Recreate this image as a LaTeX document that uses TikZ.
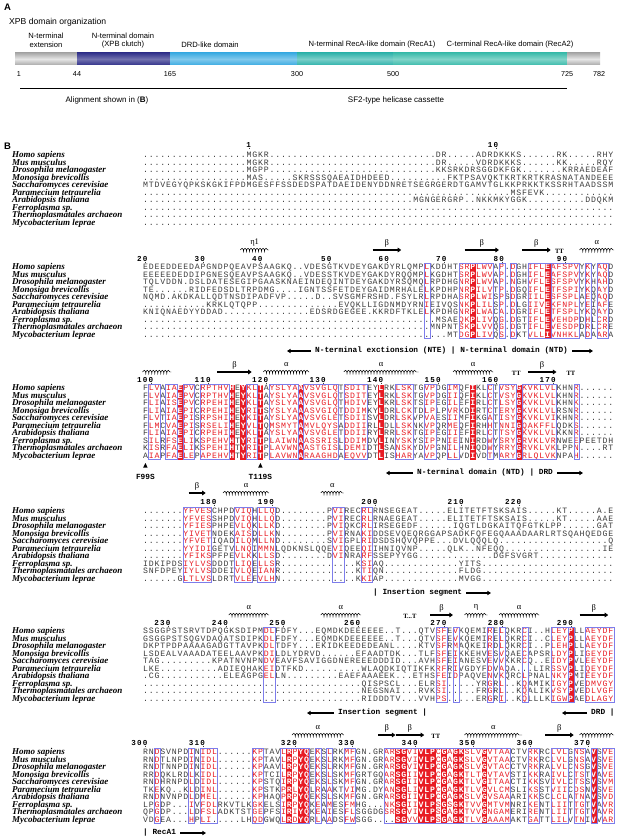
\documentclass[tikz,border=0pt]{standalone}
\usepackage{fontspec}
\setmainfont{Liberation Serif}
\setsansfont{Liberation Sans}
\newfontfamily\monofam{Liberation Mono}
\usetikzlibrary{arrows.meta,decorations.pathmorphing}
\definecolor{seqred}{RGB}{232,28,36}
\definecolor{seqgray}{RGB}{60,60,60}
\definecolor{framebl}{RGB}{125,125,235}
\definecolor{segA}{RGB}{200,200,200}
\definecolor{segB}{RGB}{52,52,140}
\definecolor{segC}{RGB}{62,172,226}
\definecolor{segD}{RGB}{50,180,172}
\definecolor{segE}{RGB}{62,188,172}
\newdimen\seqcw \seqcw=5.75pt
\newcount\sqcol
\newcount\sqn
\def\sqend{-sqend-}
\gdef\sqbglist{,}\gdef\sqredlist{,}\gdef\curframes{}
\ExplSyntaxOn
\cs_new:Npn \D #1 {\prg_replicate:nn {#1} {.}}
\ExplSyntaxOff
\makeatletter
\def\sq@box#1#2{\hbox to\seqcw{\hss\textcolor{#1}{#2}\hss}}
\def\sq@bgbox#1{\hbox to\seqcw{\rlap{\textcolor{seqred}{\vrule width\seqcw height 5.55pt depth 1.95pt}}\hss\textcolor{white}{\bfseries #1}\hss}}
\def\sqchar#1{%
  \global\advance\sqcol by 1\relax
  \ifx#1.%
    \sq@box{seqgray}{.}%
  \else
    \edef\sq@x{\noexpand\in@{,\the\sqcol,}{\sqbglist}}\sq@x
    \ifin@
      \sq@bgbox{#1}%
    \else
      \edef\sq@x{\noexpand\in@{,\the\sqcol,}{\sqredlist}}\sq@x
      \ifin@\sq@box{seqred}{#1}\else\sq@box{seqgray}{#1}\fi
    \fi
  \fi}
\def\sqtypeA#1{\ifx#1\sqend\else\sqchar{#1}\expandafter\sqtypeA\fi}
\def\sqcountA#1{\ifx#1\sqend\else\advance\sqn by 1\relax\expandafter\sqcountA\fi}
\newcommand\sqL[1]{\edef\sq@s{#1}\global\sqcol=0\relax\expandafter\sqtypeA\sq@s\sqend}
\newcommand\sqR[1]{\edef\sq@s{#1}\sqn=0\relax\expandafter\sqcountA\sq@s\sqend\global\sqcol=\numexpr82-\sqn\relax\expandafter\sqtypeA\sq@s\sqend}
\def\rdigA#1{\ifx#1\sqend\else\hbox to\seqcw{\hss#1\hss}\expandafter\rdigA\fi}
\newcommand\rdig[1]{\edef\sq@s{#1}\expandafter\rdigA\sq@s\sqend}
\makeatother
\def\blky{0}
\newcommand\seqline[3]{%
  \node[seqst,anchor=base west] at (142.5,{\blky+7.5*(#1-1)+2.5}) {\sqL{#2}};%
  \node[seqst,anchor=base east] at (614,{\blky+7.5*(#1-1)+2.5}) {\sqR{#3}};}
\newcommand\namesat[1]{\foreach \nm [count=\ii from 0] in {Homo sapiens,Mus musculus,Drosophila melanogaster,Monosiga brevicollis,Saccharomyces cerevisiae,Paramecium tetraurelia,Arabidopsis thaliana,Ferroplasma sp.,Thermoplasmatales archaeon,Mycobacterium leprae}{\node[namest] at (12,{#1+7.5*\ii+2.5}) {\nm};}}
\newcommand\rul[2]{\foreach \rc/\rn in {#2}{\node[rulst] at ({142.5+\rc*5.75},{#1+2.5}) {\rdig{\rn}};\draw[line width=0.45pt,seqgray] ({142.5+(\rc-0.5)*5.75},{#1+2.7}) -- ({142.5+(\rc-0.5)*5.75},{#1+4.3});}}
\newcommand\setframes[2]{\gdef\curframes{#1}\gdef\sqbglist{,#2,}\gdef\sqredlist{,}%
  \foreach \fa/\fb in {#1}{\foreach \fc in {\fa,...,\fb}{\xdef\sqredlist{\sqredlist\fc,}}}}
\newcommand\drawframes[1]{\foreach \fa/\fb in \curframes {\draw[framest] ({142.5+(\fa-1)*5.75},{#1-3.75}) rectangle ({142.5+\fb*5.75},{#1+71.25});}}
\newcommand\hel[3]{\draw[helixst] ({142.5+(#2-1)*5.75},#1) -- ({142.5+#3*5.75},#1);}
\newcommand\hlab[4]{\hel{#1}{#2}{#3}\node[sslab] at ({142.5+(#2+#3-1)*5.75/2},{#1-7.5}) {#4};}
\newcommand\bet[3]{\draw[betaarrow] ({142.5+(#2-1)*5.75},#1) -- ({142.5+#3*5.75},#1);\node[sslab] at ({142.5+(#2+#3-1)*5.75/2},{#1-7}) {β};}
\newcommand\turn[3]{\node[ttst] at ({142.5+(#2-0.5)*5.75},#1) {#3};}
\begin{document}
\begin{tikzpicture}[x=1pt,y=-1pt,
  namest/.style={inner sep=0pt,anchor=base west,font=\rmfamily\bfseries\itshape\fontsize{9}{9}\selectfont},
  seqst/.style={inner sep=0pt,font=\monofam\fontsize{8.2}{8.2}\selectfont},
  rulst/.style={inner sep=0pt,anchor=base east,font=\monofam\bfseries\fontsize{7.6}{7.6}\selectfont},
  framest/.style={draw=framebl,line width=0.5pt},
  betaarrow/.style={line width=1.4pt,-{Triangle[length=3.6pt,width=4.6pt]}},
  helixst/.style={line width=0.45pt,decorate,decoration={coil,amplitude=1.7pt,segment length=3pt,aspect=0.6}},
  sslab/.style={inner sep=0pt,font=\rmfamily\fontsize{8.5}{8.5}\selectfont},
  ttst/.style={inner sep=0pt,font=\rmfamily\bfseries\fontsize{6.5}{6.5}\selectfont},
  annst/.style={inner sep=0pt,anchor=west,font=\monofam\bfseries\fontsize{7.8}{7.8}\selectfont},
  annarrow/.style={line width=1.2pt,-{Triangle[length=3.6pt,width=4.2pt]}},
  lbA/.style={inner sep=0pt,font=\sffamily\fontsize{7.6}{7.6}\selectfont},
  numA/.style={inner sep=0pt,font=\sffamily\fontsize{7.2}{7.2}\selectfont},
  panel/.style={inner sep=0pt,anchor=base west,font=\sffamily\bfseries\fontsize{9.5}{9.5}\selectfont}]
\useasboundingbox (0,0) rectangle (617,837);
\fill[white] (0,0) rectangle (617,837);
% ---------------- Panel A
\node[panel] (pA) at (4,11) {A};
\node[inner sep=0pt,anchor=base west,font=\sffamily\fontsize{8.6}{8.6}\selectfont] (tA) at (9,25) {XPB domain organization};
\node[lbA] (d1a) at (46,36) {N-terminal};
\node[lbA] (d1b) at (46,45) {extension};
\node[lbA] (d2a) at (123,36) {N-terminal domain};
\node[lbA] (d2b) at (123,45) {(XPB clutch)};
\node[lbA] (d3) at (210,45) {DRD-like domain};
\node[lbA] (d4) at (372,45) {N-terminal RecA-like domain (RecA1)};
\node[lbA] (d5) at (510,45) {C-terminal RecA-like domain (RecA2)};
\shade[top color=segA!85!black,bottom color=segA!85!black,middle color=segA!45!white] (15,53) rectangle (77,65);
\shade[top color=segB,bottom color=segB,middle color=segB!70!white] (77,53) rectangle (170,65);
\shade[top color=segC,bottom color=segC,middle color=segC!65!white] (170,53) rectangle (297,65);
\shade[top color=segD,bottom color=segD,middle color=segD!65!white] (297,53) rectangle (393,65);
\shade[top color=segE,bottom color=segE,middle color=segE!65!white] (393,53) rectangle (567,65);
\shade[top color=segA!85!black,bottom color=segA!85!black,middle color=segA!45!white] (567,53) rectangle (600,65);
\node[numA] (n1) at (19,74) {1};
\node[numA] (n44) at (77,74) {44};
\node[numA] (n165) at (170,74) {165};
\node[numA] (n300) at (297,74) {300};
\node[numA] (n500) at (393,74) {500};
\node[numA] (n725) at (567,74) {725};
\node[numA] (n782) at (599,74) {782};
\coordinate (al1) at (20,88); \coordinate (al2) at (297,88);
\coordinate (sf1) at (297,88); \coordinate (sf2) at (567,88);
\draw[line width=0.7pt] (al1) -- (al2);
\draw[line width=0.7pt] (sf1) -- (sf2);
\node[lbA,font=\sffamily\fontsize{8}{8}\selectfont] (alt) at (107,100) {Alignment shown in (\textbf{B})};
\node[lbA,font=\sffamily\fontsize{8}{8}\selectfont] (sft) at (396,100) {SF2-type helicase cassette};
% ---------------- Panel B
\node[panel] (pB) at (4,150) {B};
% ===== Block 1
\def\blky{155}
\namesat{155}
\rul{145}{19/1,62/10}
\seqline{1}{\D{18}MGKR\D{29}}{DR\D{5}ADRDKKKS\D{6}RK\D{5}RHY}
\seqline{2}{\D{18}MGKR\D{29}}{DR\D{5}VDRDKKKS\D{6}KK\D{5}RQY}
\seqline{3}{\D{18}MGPP\D{29}}{KKSRKDRSGGDKFGK\D{7}KRRAEDEAF}
\seqline{4}{\D{18}MAS\D{5}SKRSSSQAEAIDHDEED\D{8}}{..FKTPSAVQKTKRTKRTKRASNATANDEEE}
\seqline{5}{MTDVEGYQPKSKGKIFPDMGESFFSSDEDSPATDAEIDENYDDNRETSEGR}{GERDTGAMVTGLKKPRKKTKSSRHTAADSSM}
\seqline{6}{\D{51}}{\D{13}MSFEVK\D{12}}
\seqline{7}{\D{47}MGNG}{ERGRP..NKKMKYGGK\D{10}DDQKM}
\seqline{8}{\D{51}}{\D{31}}
\seqline{9}{\D{51}}{\D{31}}
\seqline{10}{\D{51}}{\D{31}}
% ===== Block 2
\def\blky{267}
\namesat{267}
\rul{259}{1/20,11/30,21/40,33/50,43/60,53/70,63/80,74/90}
\hlab{250}{18}{22}{η1}
\bet{250}{41}{45}
\bet{250}{57}{62}
\bet{250}{67}{71}
\turn{251}{73}{TT}
\hlab{250}{77}{82}{α}
\setframes{50/50,56/61,63/63,65/65,68/71,72/76,78/78,80/81}{58,71}
\seqline{1}{EDEEDDEEDAPGNDPQEAVPSAAGKQ..VDESGTKVDEYG}{AKDYRLQMPLKDDHTSRPLWVAP.DGHIFLEAFSPVYKYAQD}
\seqline{2}{EEEEEDEDDIPGNESQEAVPSAAGKQ..VDESSTKVDEYG}{AKDYRQQMPLKGDHTSRPLWVAP.DGHIFLEAFSPVYKYAQD}
\seqline{3}{TQLVDDN.DSLDATESEGIPGAASKNAEINDEQINTDEYG}{AKDYRSQMQLRPDHGNRPLWVAP.NGHVFLESFSPVYKHAHD}
\seqline{4}{TE\D{6}RIDFEDSDLTRPDMG\D{4}IGNTSSFETDEYG}{AIDMRHALELKPDHPNRPILVTP.DGQIFLETFSPIYKQAYD}
\seqline{5}{NQMD.AKDKALLQDTNSDIPADFVP\D{5}D..SVSGMFR}{SHD.FSYLRLRPDHASRPLWISPSDGRIILESFSPLAEQAQD}
\seqline{6}{\D{11}KRKLQTQPP\D{14}EVQKLL}{IGDNMDYRNIEIVQSNKPLILSP.DLGIIVEKFNPLYEIAFE}
\seqline{7}{KNIQNAEDYYDDAD\D{15}EDSRDGEGEE.}{KKRDFTKLELKPDHGNRPLWACA.DGRIFLETFSPLYKQAYD}
\seqline{8}{\D{40}}{\D{11}MSAEQKPLIVQG.DGTIFLEVEHDPDHLCRD}
\seqline{9}{\D{40}}{\D{10}MNPNTSKPLVVQG.DGTIFLEVESDPDRLCRE}
\seqline{10}{\D{40}}{\D{13}MTDGPLIVQS.DKTVLLIVNHKLADAARA}
\drawframes{267}
\node[annst] (ann2) at (315,351) {N-terminal exctionsion (NTE) | N-terminal domain (NTD)};
\coordinate (ann2L) at (287,351);
\coordinate (ann2R) at (593,351);
\draw[annarrow] ([xshift=-4pt]ann2.west) -- (ann2L);
\draw[annarrow] ([xshift=4pt]ann2.east) -- (ann2R);
% ===== Block 3
\def\blky{388}
\namesat{388}
\rul{380}{2/100,12/110,22/120,32/130,42/140,52/150,62/160,72/170}
\hel{372}{1}{5}
\bet{372}{14}{19}
\hlab{372}{22}{29}{α}
\hlab{372}{36}{48}{α}
\hlab{372}{55}{61}{α}
\turn{373}{65.5}{TT}
\bet{372}{68}{72}
\turn{373}{75}{TT}
\setframes{2/3,5/6,8/9,11/15,19/20,23/27,29/34,36/39,45/47,50/51,54/55,61/61,63/65,67/72,76/76}{7,16,18,21,28,42,58,66}
\seqline{1}{FLVAIAEPVCRPTHVHEYKLTAYSLYAAVSVGLQTSDITEY}{LRKLSKTGVPDGIMQFIKLCTVSYGKVKLVLKHNR\D{6}}
\seqline{2}{FLVAIAEPVCRPTHVHEYKLTAYSLYAAVSVGLQTSDITEY}{LRKLSKTGVPDGIIQFIKLCTVSYGKVKLVLKHNR\D{6}}
\seqline{3}{FLIAISEPVCRPEHIHEYKLTAYSLYAAVSVGLQTHDIVEY}{LKRLSKTSIPEGILEFIRLCTLSYGKVKLVLKHNK\D{6}}
\seqline{4}{FLIAIAEPICRPEHIHEYRITSYSLYAAASVGIQTDDIMKY}{LDRLCKTDLPLPVRKDIRTCTERYGKVKLVLRSNR\D{6}}
\seqline{5}{FLVTIAEPISRPSHIHEYKITAYSLYAAVSVGLETSDIISV}{LDRLSKVPVAESIIMFIKGATISYGKVKLVIKHNR\D{6}}
\seqline{6}{FLMCVAEPISRSELIHEYVLTQMSMYTAMVLQYSADDIIRL}{LDLLSKNKVPQRMEQFIRHHTNNIGQAKFFLQDKS\D{6}}
\seqline{7}{FLIAIAEPICRPEHIHEYKLTAYSLYAAVSVGLETDDIIRY}{LRRLSKTGIPEGIIEFIRLCTTSYGKVKLVLKKNR\D{6}}
\seqline{8}{SILRFSELIKSPEHVHTYRITPLAIWNAASSRISLDDIMDV}{LINYSKYSIPPNIEINIRDWYSRYGRVKLVRNWEEPEETDH}
\seqline{9}{KISRFAELIKSPEHIHTYRITPLAVWNAASTGISLDEMIDT}{LSANSKYDVPGNILHNIQDWYRRYGRVKLVKLPPN\D{4}RT}
\seqline{10}{AIAPFAELEPAPEHVHTYRITPLAVWNARAAGHDAEQVVDT}{LISHARYAVPQPLLVDIVDTMARYGRLQLVKNPAH\D{6}}
\drawframes{388}
\fill (143.2,467.5) -- (147.6,467.5) -- (145.4,463) -- cycle;
\fill (258.2,467.5) -- (262.6,467.5) -- (260.4,463) -- cycle;
\node[annst,anchor=center] (f99) at (145.4,477) {F99S};
\node[annst,anchor=center] (t119) at (260.4,477) {T119S};
\node[annst] (ann3) at (417,473) {N-terminal domain (NTD) | DRD};
\coordinate (ann3L) at (386,473);
\coordinate (ann3R) at (583,473);
\draw[annarrow] ([xshift=-4pt]ann3.west) -- (ann3L);
\draw[annarrow] ([xshift=4pt]ann3.east) -- (ann3R);
% ===== Block 4
\def\blky{511}
\namesat{511}
\rul{502}{13/180,23/190,41/200,56/210,66/220}
\bet{493}{9}{11}
\hlab{493}{15}{22}{α}
\hlab{493}{32}{35}{α}
\setframes{8/12,17/19,21/23,34/35,39/40}{}
\seqline{1}{\D{7}YFVESCHPDVIQHLLQD\D{8}PVIRECRLRN}{SEGEAT\D{5}ELITETFTSKSAIS\D{5}KT\D{5}A.E}
\seqline{2}{\D{7}YFVESSHPDVIQHLLQD\D{8}PVIRECRLRN}{AEGEAT\D{5}ELITETFTSKSAIS\D{5}KT\D{5}AAE}
\seqline{3}{\D{7}YFIESPHPEVLQKLLKD\D{8}PVIQKCRLIR}{SEGEDF\D{6}IQGTLDGKAITQFGTKLPP\D{6}GAT}
\seqline{4}{\D{7}YIVETNDEKAISDLLKN\D{8}PVIRNAKIDD}{SEVQEQRGGAPSADKFQFEGQAAADAARLRTSQAHQEDGE}
\seqline{5}{\D{7}YFVETIQADILQMLLND\D{8}SVIGPLRIDS}{DSHQVQPPE\D{3}DVLQQQLQ\D{19}Q}
\seqline{6}{\D{7}YYIDIGETVLNQIMMNLQDKNSLQQEVIQEEQIIH}{NIQVNP\D{5}QLK..NFEQQ\D{17}IE}
\seqline{7}{\D{7}YFIKSPFPEVLKKLLSD\D{8}DVINRARFSS}{EPYYGG\D{13}DGFSVGRT\D{13}}
\seqline{8}{IDKIPDSIYLVSDDDTLIQELLSR\D{13}KSIAQ}{\D{13}YITS\D{23}}
\seqline{9}{SNFDPEYIYLVSDDEIVLQEIANR\D{13}KTIQN}{\D{13}FLDG\D{23}}
\seqline{10}{\D{6}GLTLVSLDRTVLEEVLHN\D{13}KKIAP}{\D{13}MVGG\D{23}}
\drawframes{511}
\node[annst] (ann4) at (373,593) {| Insertion segment};
\coordinate (ann4R) at (491,593);
\draw[annarrow] ([xshift=4pt]ann4.east) -- (ann4R);
% ===== Block 5
\def\blky{631}
\namesat{631}
\rul{623}{5/230,15/240,25/250,38/260,53/270,63/280,75/290}
\hlab{615}{16}{22}{α}
\hlab{615}{32}{38}{α}
\turn{616}{47}{T...T}
\bet{615}{51}{54}
\hlab{615}{57}{60}{η}
\hlab{615}{63}{69}{α}
\bet{615}{77}{81}
\setframes{22/23,52/53,55/55,61/61,63/63,67/67,72/74,75/75,78/82}{75}
\seqline{1}{SSGGPSTSRVTDPQGKSDIPMDLFDFY\D{3}EQMDKDEEEEEE}{..T\D{3}QTVSFEVKQEMIRELQKRCI..HLEYPLLAEYDF}
\seqline{2}{GSGGPSTSQGVDAQATSDIPKDLFDFY\D{3}EQMDKDEEEEEE}{..T\D{3}QTVSFEVKQEMIRELQKRCI..CLEYPLLAEYDF}
\seqline{3}{DKPTPDPAAAAGADGTTAVPKDLTDFY\D{3}EKIDKEEDEDEA}{NL\D{4}KTVSFRMAQKEIRDLQKRCI..PLEHPLLAEYDF}
\seqline{4}{LSDEALVAAADATEELAAVPKDILDLYDRVD\D{6}EFAAD}{TDK\D{3}TLFSFEIKKEHVESVQAECAPSRLDYPLIGEYDF}
\seqline{5}{TAG\D{9}KPATNVNPNDVEAVFSAVIGGDNEREEEDD}{DID\D{3}AVHSFEIANESVEVVKKRCQ..EIDYPVLEEYDF}
\seqline{6}{LKE\D{10}ADIEQHAKEIDTFKD\D{10}WLAQ}{DKIQTIKFKRFRIVGDYFDVAQA\D{3}LIRSSVPLIQEYDF}
\seqline{7}{.CG\D{11}ELEAGPGELLN\D{9}EAEFAAAE}{EK\D{3}ETHSFEIDPAQVENVKQRCLPNALNKYPMIEEYDF}
\seqline{8}{\D{38}QISP}{SCL\D{3}ELRSI\D{5}YRGRL..KQAMIKIGYPVEDMVGY}
\seqline{9}{\D{38}NEGS}{NAI\D{3}RVKSI\D{5}FRGRL..KQALIKVSYPVEDLVGF}
\seqline{10}{\D{38}RIDD}{DTV\D{3}VVHPS\D{5}ERGRI..KQLLLKIGWPAEDLAGY}
\drawframes{631}
\node[annst] (ann5) at (338,713) {Insertion segment |};
\coordinate (ann5L) at (307,713);
\draw[annarrow] ([xshift=-4pt]ann5.west) -- (ann5L);
\node[annst] (ann5b) at (591,713) {DRD |};
\coordinate (ann5bL) at (562,713);
\draw[annarrow] ([xshift=-4pt]ann5b.west) -- (ann5bL);
% ===== Block 6
\def\blky{752}
\namesat{752}
\rul{743}{1/300,11/310,27/320,37/330,48/340,58/350,68/360,78/370}
\hlab{735}{27}{35}{α}
\bet{735}{42}{44}
\bet{735}{45}{49}
\turn{736}{51.5}{TT}
\hlab{735}{57}{66}{α}
\bet{735}{71}{75}
\hel{735}{77}{82}
\setframes{3/3,9/9,11/13,20/21,25/29,31/31,33/33,36/37,43/64,68/69,72/74,76/77,79/79,81/82}{26,28,29,45,46,49,50,51,53,55,56,60,79}
\seqline{1}{RNDSVNPDINIDL\D{6}KPTAVLRPYQEKSLRKMFGN.G}{RARSGVIVLPCGAGKSLVGVTAACTVRKRCLVLGNSAVSVE}
\seqline{2}{RNDTLNPDINIDL\D{6}KPTAVLRPYQEKSLRKMFGN.G}{RARSGVIVLPCGAGKSLVGVTAACTVRKRCLVLGNSAVSVE}
\seqline{3}{RNDTNNPDINIDL\D{6}KPAAVLRPYQEKSLRKMFGN.G}{RARSGVIVLPCGAGKSLVGVTACCTVRKRALVLCNSGVSVE}
\seqline{4}{RRDQKLRDLKIDL\D{6}KPTCILRPYQEKSLSKMFGRTG}{QARSGIIVLPCGAGKTLTGVTAVSTIKKRAIVLCTSTVAVE}
\seqline{5}{RNDHRNPDLDIDL\D{6}KPSTQIRPYQEKSLSKMFGN.G}{RARSGIIVLPCGAGKTLVGITAACTIKKSVIVLCTSSVSVM}
\seqline{6}{TKEKQ..KLDINL\D{6}KPSTKPRLYQLRAAKTVIMG.D}{YANSGLIVLPCGAGKTLVGVLCMSLIKSSTVIICDSNVSVE}
\seqline{7}{RNDNVNPDLDMEL\D{6}KPHAQPRPYQEKSLSKMFGN.G}{RARSGIIVLPCGAGKSLVGVSAAARIKKSCLCLATNAVSVD}
\seqline{8}{LPGDP\D{3}IVFDLRKVTLKGKELSIRPYQKEAMESFMHG..}{.NKSGIIVLPSGSGKTVVGMTVMNRIKENTLIITTGTVAVR}
\seqline{9}{QPGDP\D{3}LDFSLADKTSTGEPFSIRIYQKEAIESFLSGGD}{GSRSGVIVLPSGAGKTVVGNGAMERIRENTLIITTGTVAVR}
\seqline{10}{VDGEA\D{3}HPLI\D{5}LHQDGWQLRDYQRLAADSFWSGG.}{\D{3}SGVVVLPSGAGKTLVGAAAMAKTGATTLILVTNIVVAR}
\drawframes{752}
\node[annst] (ann6) at (143,833) {| RecA1};
\coordinate (ann6R) at (206,833);
\draw[annarrow] ([xshift=4pt]ann6.east) -- (ann6R);
\end{tikzpicture}
\end{document}
